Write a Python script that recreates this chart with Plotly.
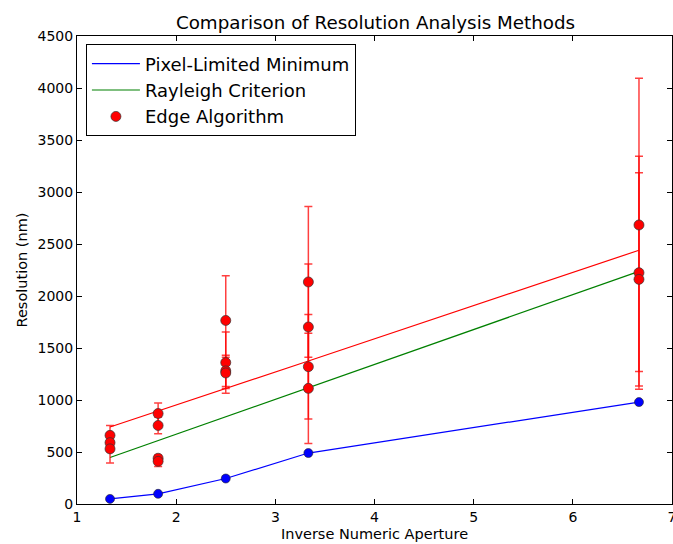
import plotly.graph_objects as go

# Inverse numeric aperture for each objective
inv_na = [1.333, 1.818, 2.5, 3.333, 6.667]

# Pixel-limited minimum resolution (nm)
pixel_limited = [49, 98, 245, 490, 980]

# Rayleigh criterion (nm)
rayleigh = [447, 610, 839, 1118, 2237]

# Fit line through the edge-algorithm data (nm)
edge_fit = [740, 893, 1110, 1375, 2440]

# Edge algorithm measurements (nm) with error bars
edge_x = [1.333, 1.333, 1.333,
          1.818, 1.818, 1.818, 1.818,
          2.5, 2.5, 2.5, 2.5,
          3.333, 3.333, 3.333, 3.333,
          6.667, 6.667, 6.667]
edge_y = [660, 590, 530,
          870, 755, 440, 410,
          1765, 1360, 1280, 1260,
          2135, 1702, 1320, 1112,
          2683, 2224, 2160]
edge_err = [95, 80, 135,
            100, 80, 30, 50,
            430, 295, 150, 150,
            725, 605, 502, 530,
            1410, 1120, 1025]

x_ticks = [1, 2, 3, 4, 5, 6, 7]
y_ticks = [0, 500, 1000, 1500, 2000, 2500, 3000, 3500, 4000, 4500]

FONT = "DejaVu Sans"

fig = go.Figure()

# Data traces (legend entries drawn with dedicated legend-only traces)
fig.add_trace(go.Scatter(
    x=inv_na, y=pixel_limited, mode="lines+markers", showlegend=False,
    line=dict(color="#0000ff", width=1.2),
    marker=dict(color="#0000ff", size=9, line=dict(color="#222222", width=0.6)),
))
fig.add_trace(go.Scatter(
    x=[None], y=[None], mode="lines", name="Pixel-Limited Minimum",
    line=dict(color="#0000ff", width=1.2),
))
fig.add_trace(go.Scatter(
    x=inv_na, y=rayleigh, mode="lines", name="Rayleigh Criterion",
    line=dict(color="#008000", width=1.2),
))
fig.add_trace(go.Scatter(
    x=inv_na, y=edge_fit, mode="lines", name="fit", showlegend=False,
    line=dict(color="#ff0000", width=1.2),
))
fig.add_trace(go.Scatter(
    x=edge_x, y=edge_y, mode="markers", name="Edge Algorithm",
    marker=dict(color="#ff0000", size=10, line=dict(color="#333333", width=0.7)),
    error_y=dict(type="data", array=edge_err, visible=True,
                 color="rgba(255,0,0,0.75)", thickness=1.5, width=4),
))

axis_common = dict(
    showgrid=False, zeroline=False, showline=True, mirror="ticks",
    linecolor="black", linewidth=1, ticks="inside", ticklen=5,
    tickcolor="black", tickfont=dict(family=FONT, size=14, color="black"),
    automargin=False, ticklabeloverflow="allow",
)

fig.update_layout(
    width=673, height=544,
    margin=dict(l=77, r=1, t=36, b=40, pad=0),
    paper_bgcolor="white", plot_bgcolor="white",
    title=dict(text="Comparison of Resolution Analysis Methods",
               font=dict(family=FONT, size=18.3, color="black"),
               x=0.558, xanchor="center", y=0.958, yanchor="middle",
               automargin=False),
    xaxis=dict(range=[1, 7], tickvals=x_ticks,
               title=dict(text="Inverse Numeric Aperture",
                          font=dict(family=FONT, size=14.5, color="black"), standoff=5),
               **axis_common),
    yaxis=dict(range=[0, 4500], tickvals=y_ticks,
               title=dict(text="Resolution (nm)",
                          font=dict(family=FONT, size=14.5, color="black"), standoff=6),
               **axis_common),
    legend=dict(x=0.015, y=0.982, xanchor="left", yanchor="top",
                bgcolor="white", bordercolor="black", borderwidth=1,
                font=dict(family=FONT, size=18, color="black"),
                tracegroupgap=0, itemwidth=48),
    showlegend=True,
)

fig.write_html(
    "out.html",
    config={"displayModeBar": False},
    post_script="document.body.style.margin='0';document.body.style.overflow='hidden';",
)
